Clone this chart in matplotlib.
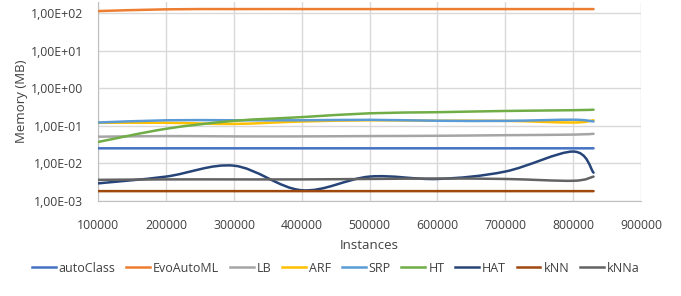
import numpy as np
import matplotlib
matplotlib.use("Agg")
import matplotlib.pyplot as plt
from matplotlib.path import Path
from matplotlib.patches import PathPatch
from matplotlib.lines import Line2D
from matplotlib.ticker import FixedLocator, FuncFormatter

instances = [100000, 200000, 300000, 400000, 500000, 600000, 700000, 800000, 830000]

series_names = ["autoClass", "EvoAutoML", "LB", "ARF", "SRP", "HT", "HAT", "kNN", "kNNa"]
autoClass = [0.025, 0.025, 0.025, 0.025, 0.025, 0.025, 0.025, 0.025, 0.025]
EvoAutoML = [115, 128, 130, 130, 130, 130, 130, 130, 130]
LB = [0.051, 0.053, 0.052, 0.052, 0.053, 0.054, 0.056, 0.058, 0.061]
ARF = [0.12, 0.12, 0.112, 0.13, 0.14, 0.136, 0.135, 0.122, 0.14]
SRP = [0.122, 0.14, 0.14, 0.14, 0.144, 0.136, 0.135, 0.145, 0.13]
HT = [0.037, 0.083, 0.135, 0.17, 0.215, 0.23, 0.248, 0.26, 0.268]
HAT = [0.0029, 0.0044, 0.0086, 0.0019, 0.0044, 0.0038, 0.006, 0.0205, 0.0056]
kNN = [0.0018, 0.0018, 0.0018, 0.0018, 0.0018, 0.0018, 0.0018, 0.0018, 0.0018]
kNNa = [0.0036, 0.0037, 0.0037, 0.0037, 0.0038, 0.0039, 0.0038, 0.0034, 0.0044]

data = [autoClass, EvoAutoML, LB, ARF, SRP, HT, HAT, kNN, kNNa]
colors = ["#4472C4", "#ED7D31", "#A5A5A5", "#FFC000", "#5B9BD5",
          "#70AD47", "#264478", "#9E480E", "#636363"]

xticks = [100000, 200000, 300000, 400000, 500000, 600000, 700000, 800000, 900000]
yticks = [1e-3, 1e-2, 1e-1, 1e0, 1e1, 1e2]

FONT = ["Open Sans", "DejaVu Sans"]
plt.rcParams['font.family'] = FONT
TXT = "#404040"

fig = plt.figure(figsize=(6.81, 2.96), dpi=100)
ax = fig.add_axes([0.1443, 0.322, 0.797, 0.671])
ax.set_yscale("log")
ax.set_xlim(100000, 900000)
ax.set_ylim(1e-3, 2.0e2)


def smooth_path(xs, ys):
    # Excel-like smoothed line: Bezier segments in (x, log y) space
    lx = np.asarray(xs, float)
    ly = np.log10(np.asarray(ys, float))
    n = len(lx)
    verts = [(lx[0], ly[0])]
    codes = [Path.MOVETO]
    for i in range(n - 1):
        p0 = np.array([lx[max(i - 1, 0)], ly[max(i - 1, 0)]])
        p1 = np.array([lx[i], ly[i]])
        p2 = np.array([lx[i + 1], ly[i + 1]])
        p3 = np.array([lx[min(i + 2, n - 1)], ly[min(i + 2, n - 1)]])
        c1 = p1 + (p2 - p0) / 6.0
        c2 = p2 - (p3 - p1) / 6.0
        verts += [tuple(c1), tuple(c2), tuple(p2)]
        codes += [Path.CURVE4] * 3
    v = np.array(verts)
    v[:, 1] = 10 ** v[:, 1]
    return Path(v, codes)


for name, ys, c in zip(series_names, data, colors):
    patch = PathPatch(smooth_path(instances, ys), facecolor="none",
                      edgecolor=c, lw=1.8, capstyle="round", joinstyle="round", zorder=3)
    ax.add_patch(patch)

ax.xaxis.set_major_locator(FixedLocator(xticks))
ax.yaxis.set_major_locator(FixedLocator(yticks))
ax.yaxis.set_minor_locator(FixedLocator([]))
ax.xaxis.set_major_formatter(FuncFormatter(lambda v, p: f"{int(v)}"))


def yfmt(v, p):
    e = int(round(np.log10(v)))
    sign = "+" if e >= 0 else "-"
    return f"1,00E{sign}{abs(e):02d}"


ax.yaxis.set_major_formatter(FuncFormatter(yfmt))
ax.grid(True, which="major", color="#D9D9D9", lw=1.0, zorder=0)
ax.set_axisbelow(True)
for s in ["top", "right"]:
    ax.spines[s].set_visible(False)
ax.spines["left"].set_color("#BFBFBF")
ax.spines["bottom"].set_color("#BFBFBF")
ax.tick_params(length=0, labelsize=8.8, colors=TXT)
ax.tick_params(axis="y", pad=11)
ax.tick_params(axis="x", pad=13)

ax.set_xlabel("Instances", fontsize=9.5, color=TXT, labelpad=5)
ax.set_ylabel("Memory (MB)", fontsize=9.5, color=TXT, labelpad=2)

handles = [Line2D([], [], color=c, lw=1.8) for c in colors]
fig.legend(handles, series_names, loc="center", bbox_to_anchor=(0.493, 0.094),
           ncol=9, frameon=False, fontsize=9, handlelength=1.9, handletextpad=0.25,
           columnspacing=0.85, labelcolor=TXT)

fig.savefig("out.png", dpi=100)
